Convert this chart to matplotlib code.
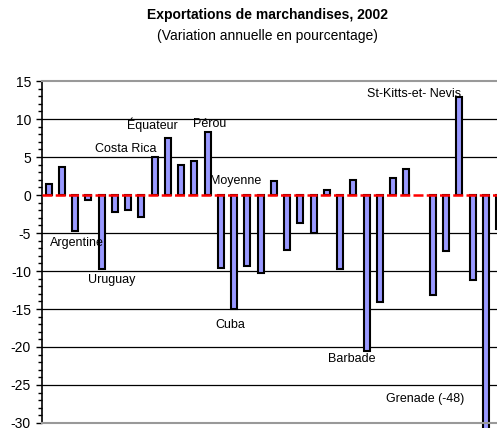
import numpy as np
import matplotlib.pyplot as plt
from matplotlib.ticker import MultipleLocator

plt.rcParams['font.family'] = ['Liberation Sans', 'DejaVu Sans']
plt.rcParams['axes.unicode_minus'] = False

# Variation annuelle des exportations, 2002 (%), one bar per country
values = [1.4, 3.7, -4.8, -0.7, -9.7, -2.2, -2.0, -2.9, 5.0, 7.5,
          4.0, 4.5, 8.3, -9.6, -15.0, -9.4, -10.2, 1.8, -7.2, -3.7,
          -5.0, 0.7, -9.7, 2.0, -20.5, -14.1, 2.2, 3.4, np.nan, -13.1,
          -7.4, 12.9, -11.2, -48.0, -4.5]
moyenne = 0.0

labels = ["St-Kitts-et- Nevis", "Équateur", "Pérou", "Costa Rica", "Moyenne",
          "Argentine", "Uruguay", "Cuba", "Barbade", "Grenade (-48)"]
label_x = [25.0, 6.9, 11.9, 4.5, 13.2, 1.1, 3.95, 13.55, 22.05, 26.5]
label_y = [13.3, 9.2, 9.4, 6.1, 1.8, -6.3, -11.2, -17.1, -21.6, -26.8]

x = np.arange(1, len(values) + 1)

fig = plt.figure(figsize=(4.97, 4.28), dpi=100)
ax = fig.add_axes([0.0845, 0.0117, 0.9331, 0.7990])

ax.bar(x, values, width=0.45, color="#9999FF", edgecolor="black",
       linewidth=1.5, zorder=2, clip_on=False)
ax.axhline(moyenne, color="red", linewidth=1.8, dashes=(4.0, 1.3), zorder=3)

for yv in range(-25, 15, 5):
    if yv != 0:
        ax.axhline(yv, color="black", linewidth=0.9, zorder=1)

for t, lx, ly in zip(labels, label_x, label_y):
    ax.text(lx, ly, t, fontsize=9, ha="left", va="center", zorder=4)

ax.set_xlim(0.5, len(values) + 0.5)
ax.set_ylim(-30, 15)
ax.yaxis.set_major_locator(MultipleLocator(5))
ax.yaxis.set_minor_locator(MultipleLocator(1))
ax.set_xticks([])
ax.tick_params(axis="y", which="major", length=4, width=1, pad=4, labelsize=10)
ax.tick_params(axis="y", which="minor", length=3, width=1)

ax.spines["right"].set_visible(False)
ax.spines["top"].set_color("#999999")
ax.spines["top"].set_linewidth(1.5)
ax.spines["bottom"].set_color("#999999")
ax.spines["bottom"].set_linewidth(1.5)
ax.spines["left"].set_linewidth(1.2)

fig.text(0.539, 0.965, "Exportations de marchandises, 2002", fontsize=10,
         fontweight="bold", ha="center", va="center")
fig.text(0.539, 0.916, "(Variation annuelle en pourcentage)", fontsize=10,
         ha="center", va="center")

fig.savefig("out.png", dpi=100)
